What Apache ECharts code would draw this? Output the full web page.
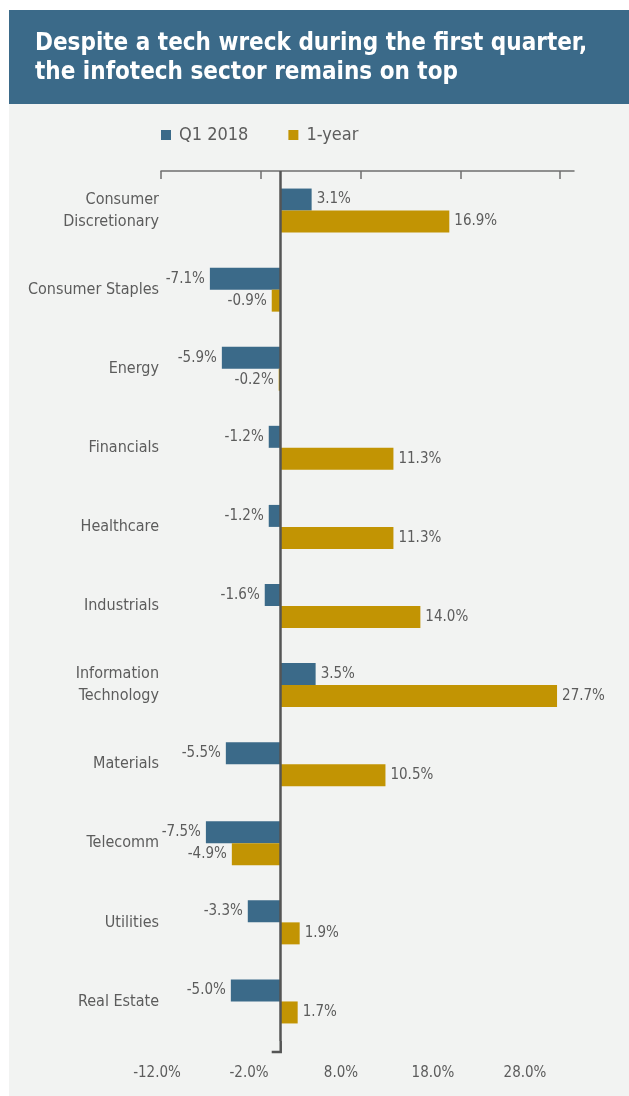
<!DOCTYPE html>
<html>
<head>
<meta charset="utf-8">
<script src="https://cdn.jsdelivr.net/npm/echarts@6/dist/echarts.min.js"></script>
<style>
html,body{margin:0;padding:0;background:#ffffff;}
#c{width:629px;height:1096px;}
</style>
</head>
<body>
<div id="c"></div>
<script>
var categories = ['Consumer\nDiscretionary','Consumer Staples','Energy','Financials','Healthcare','Industrials','Information\nTechnology','Materials','Telecomm','Utilities','Real Estate'];
var q1 = [3.1,-7.1,-5.9,-1.2,-1.2,-1.6,3.5,-5.5,-7.5,-3.3,-5.0];
var oneYear = [16.9,-0.9,-0.2,11.3,11.3,14.0,27.7,10.5,-4.9,1.9,1.7];
var tickLabels = [-12,-2,8,18,28];

var FONT = '"DejaVu Sans Condensed", sans-serif';
var BLUE = '#3b6a89';
var GOLD = '#c29403';
var TXT = '#5c5c5c';

function items(arr){
  return arr.map(function(v){
    return {value: v, label: {position: v < 0 ? 'left' : 'right'}};
  });
}
var labelCfg = {
  show: true, distance: 5, color: TXT, fontFamily: FONT, fontSize: 15,
  formatter: function(p){ return p.value.toFixed(1) + '%'; }
};

var chart = echarts.init(document.getElementById('c'), null, {renderer:'canvas'});
var option = {
  animation: false,
  backgroundColor: '#ffffff',
  graphic: [
    {type:'rect', left: 9, top: 104, shape:{width:620, height:992}, style:{fill:'#f2f3f2'}, z:-10, silent:true},
    {type:'rect', left: 9, top: 10, shape:{width:620, height:94}, style:{fill:'#3b6a89'}, z:-10, silent:true}
  ],
  title: {
    text: 'Despite a tech wreck during the first quarter,\nthe infotech sector remains on top',
    left: 35, top: 29, padding: 0,
    textStyle: {color:'#ffffff', fontFamily: FONT, fontWeight:'bold', fontSize: 24, lineHeight: 29}
  },
  legend: {
    top: 126, left: 161, padding: 0, itemWidth: 10, itemHeight: 10, itemGap: 40, icon: 'rect',
    textStyle: {color: TXT, fontFamily: FONT, fontSize: 18, padding: [0, 0, 0, 3]},
    data: ['Q1 2018', '1-year']
  },
  grid: [
    {left: 161, right: 55, top: 171, height: 870, containLabel: false},
    {left: 157, width: 368, top: 1056, height: 1, containLabel: false}
  ],
  xAxis: [
    {
      type: 'value', gridIndex: 0, position: 'top', min: -12, max: 29.4, interval: 10,
      axisLine: {show: true, onZero: false, lineStyle: {color: '#6f6f6f', width: 1.5}},
      axisTick: {show: true, inside: true, length: 8, customValues: tickLabels, lineStyle: {color: '#6f6f6f', width: 1.5}},
      axisLabel: {show: false},
      splitLine: {show: false}
    },
    {
      type: 'value', gridIndex: 1, position: 'bottom', min: -12, max: 28, interval: 10,
      axisLine: {show: false}, axisTick: {show: false}, splitLine: {show: false},
      axisLabel: {show: true, color: TXT, fontFamily: FONT, fontSize: 15, margin: 9,
        formatter: function(v){ return v.toFixed(1) + '%'; }}
    }
  ],
  yAxis: [
    {
      type: 'category', gridIndex: 0, inverse: true, data: categories,
      axisLine: {show: false}, axisTick: {show: false},
      axisLabel: {color: TXT, fontFamily: FONT, fontSize: 16, lineHeight: 22, margin: 2, align: 'right'}
    },
    {type: 'category', gridIndex: 1, data: ['a'], show: false}
  ],
  series: [
    {
      name: 'Q1 2018', type: 'bar', xAxisIndex: 0, yAxisIndex: 0,
      data: items(q1), barWidth: 22, barGap: '0%', itemStyle: {color: BLUE},
      label: labelCfg,
      markLine: {
        silent: true, symbol: 'none', label: {show: false},
        lineStyle: {color: '#555555', width: 2.5, type: 'solid'},
        data: [{xAxis: 0}]
      }
    },
    {
      name: '1-year', type: 'bar', xAxisIndex: 0, yAxisIndex: 0,
      data: items(oneYear), barWidth: 22, barGap: '0%', itemStyle: {color: GOLD},
      label: labelCfg
    }
  ]
};
chart.setOption(option);

// small extension of the zero line below the plot, with its foot tick
var x0 = chart.convertToPixel({xAxisIndex: 0}, 0);
var yb = 171 + 870;
chart.setOption({
  graphic: option.graphic.concat([
    {type: 'polyline', shape: {points: [[x0, yb], [x0, yb + 11], [x0 - 9, yb + 11]]},
     style: {stroke: '#555555', lineWidth: 2.5, fill: null}, silent: true, z: 5}
  ])
});
</script>
</body>
</html>
